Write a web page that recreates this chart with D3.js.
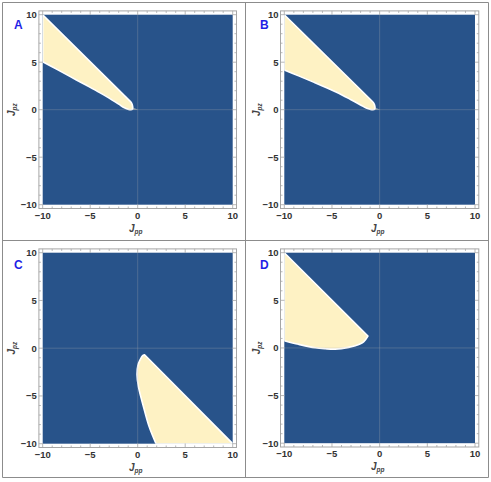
<!DOCTYPE html>
<html>
<head>
<meta charset="utf-8">
<script src="https://cdn.jsdelivr.net/npm/d3@7"></script>
<style>
  body { margin: 0; background: #fff; }
  svg { display: block; }
</style>
</head>
<body>
<div id="chart"></div>
<script>
// tick values shared by all four panels
var majorTicks = [-10, -5, 0, 5, 10];
var panelLetters = ["A", "B", "C", "D"];

// yellow regions (J_pp, J_pz)
// straight part of each outline, then the curved part
var edgeA = [[-10, 5.05], [-10, 10], [-0.81, 0.9]];
var curveA = [[-0.81, 0.9], [-0.63, 0.67], [-0.53, 0.32], [-0.56, 0.04], [-0.75, 0], [-0.95, 0.03],
              [-1.4, 0.2], [-2, 0.58], [-3, 1.22], [-4, 1.8], [-5.5, 2.62], [-7, 3.43], [-8.5, 4.24], [-10, 5.05]];
var tailA = [[-0.55, 0.25], [0.05, 0.0], [-0.56, -0.04]];

var edgeB = [[-10, 4.18], [-10, 10], [-0.81, 0.92]];
var curveB = [[-0.81, 0.92], [-0.62, 0.7], [-0.5, 0.36], [-0.53, 0.04], [-0.75, 0], [-0.95, 0.03],
              [-1.4, 0.17], [-2, 0.5], [-3, 1.05], [-4, 1.58], [-5.5, 2.28], [-7, 2.93], [-8.5, 3.56], [-10, 4.18]];
var tailB = [[-0.5, 0.25], [0.05, 0.0], [-0.52, -0.04]];

var edgeC = [[0.72, -0.68], [10, -10], [1.93, -10]];
var curveC = [[1.93, -10], [1.2, -8.2], [0.6, -6.1], [0.07, -4.0], [-0.07, -2.8], [0.02, -1.8],
              [0.24, -1.24], [0.5, -0.8], [0.72, -0.68]];

var edgeD = [[-10, 0.76], [-10, 10], [-1.23, 1.25]];
var curveD = [[-1.23, 1.25], [-1.68, 0.65], [-2.56, 0.23], [-3.25, 0.06], [-4.66, -0.12],
              [-5.71, -0.08], [-6.76, 0.02], [-8.5, 0.38], [-10, 0.76]];

var regions = [
  {edge: edgeA, curve: curveA, tail: tailA},
  {edge: edgeB, curve: curveB, tail: tailB},
  {edge: edgeC, curve: curveC, tail: null},
  {edge: edgeD, curve: curveD, tail: null}
];

// layout of the 2x2 grid (pixel boxes of the data range)
var layout = [
  {x0: 42.7, x1: 232.7, y0: 14.7, y1: 204.7, lx: 14, ly: 29, cx: 0},
  {x0: 284.3, x1: 475, y0: 14.7, y1: 204.7, lx: 260, ly: 29, cx: 245},
  {x0: 42.7, x1: 232.7, y0: 252.7, y1: 443.7, lx: 14, ly: 269, cx: 0},
  {x0: 284.3, x1: 475, y0: 252.7, y1: 443.2, lx: 260, ly: 269, cx: 245}
];

var W = 491, H = 482;
var blue = "#28538a", yellow = "#fef2c4";

var svg = d3.select("#chart").append("svg")
  .attr("width", W).attr("height", H);

// cell borders
[2.5, 245.5, 488.5].forEach(function(x) {
  svg.append("line").attr("x1", x).attr("x2", x).attr("y1", 2.5).attr("y2", 477.5)
    .attr("stroke", "#8c8c8c").attr("stroke-width", 1);
});
[2.5, 240.5, 477.5].forEach(function(y) {
  svg.append("line").attr("x1", 2.5).attr("x2", 488.5).attr("y1", y).attr("y2", y)
    .attr("stroke", "#8c8c8c").attr("stroke-width", 1);
});

layout.forEach(function(p, i) {
  var x = d3.scaleLinear().domain([-10, 10]).range([p.x0, p.x1]);
  var y = d3.scaleLinear().domain([-10, 10]).range([p.y1, p.y0]);
  var pad = 3.8;
  var g = svg.append("g");

  var clipId = "clip" + i;
  svg.append("clipPath").attr("id", clipId).append("rect")
    .attr("x", x(-10)).attr("y", y(10))
    .attr("width", x(10) - x(-10)).attr("height", y(-10) - y(10));

  // background region
  g.append("rect")
    .attr("x", x(-10)).attr("y", y(10))
    .attr("width", x(10) - x(-10)).attr("height", y(-10) - y(10))
    .attr("fill", blue);

  var reg = regions[i];
  var straight = d3.line().x(function(d) { return x(d[0]); }).y(function(d) { return y(d[1]); });
  var curved = d3.line().x(function(d) { return x(d[0]); }).y(function(d) { return y(d[1]); })
    .curve(d3.curveCatmullRom.alpha(0.5));
  var dPath = straight(reg.edge) + curved(reg.curve).replace(/^M/, "L") + "Z";

  var rg = g.append("g").attr("clip-path", "url(#" + clipId + ")");
  if (reg.tail) {
    rg.append("path").attr("d", straight(reg.tail) + "Z")
      .attr("fill", "#d8d6c0").attr("opacity", 0.55);
  }
  rg.append("path").attr("d", dPath)
    .attr("fill", yellow)
    .attr("stroke", "#ffffff").attr("stroke-width", 1.6)
    .attr("stroke-linejoin", "round");

  // grid lines at zero
  g.append("line").attr("x1", x(0)).attr("x2", x(0)).attr("y1", y(-10)).attr("y2", y(10))
    .attr("stroke", "#b4b4b4").attr("stroke-opacity", 0.35).attr("stroke-width", 0.8);
  g.append("line").attr("x1", x(-10)).attr("x2", x(10)).attr("y1", y(0)).attr("y2", y(0))
    .attr("stroke", "#b4b4b4").attr("stroke-opacity", 0.35).attr("stroke-width", 0.8);

  // frame
  var fx0 = x(-10) - pad, fx1 = x(10) + pad, fy0 = y(10) - pad, fy1 = y(-10) + pad;
  g.append("rect")
    .attr("x", fx0).attr("y", fy0).attr("width", fx1 - fx0).attr("height", fy1 - fy0)
    .attr("fill", "none").attr("stroke", "#a6a6a6").attr("stroke-width", 1);

  var minor = x.ticks(20);
  var tickCol = "#a6a6a6";
  minor.forEach(function(t) {
    var len = majorTicks.indexOf(t) >= 0 ? 4 : 2;
    // bottom / top
    g.append("line").attr("x1", x(t)).attr("x2", x(t)).attr("y1", fy1).attr("y2", fy1 - len)
      .attr("stroke", tickCol).attr("stroke-width", 0.8);
    g.append("line").attr("x1", x(t)).attr("x2", x(t)).attr("y1", fy0).attr("y2", fy0 + len)
      .attr("stroke", tickCol).attr("stroke-width", 0.8);
    // left / right
    g.append("line").attr("y1", y(t)).attr("y2", y(t)).attr("x1", fx0).attr("x2", fx0 + len)
      .attr("stroke", tickCol).attr("stroke-width", 0.8);
    g.append("line").attr("y1", y(t)).attr("y2", y(t)).attr("x1", fx1).attr("x2", fx1 - len)
      .attr("stroke", tickCol).attr("stroke-width", 0.8);
  });

  var fmt = function(t) { return t < 0 ? "\u2212" + Math.abs(t) : String(t); };
  majorTicks.forEach(function(t) {
    g.append("text").attr("x", x(t)).attr("y", fy1 + 10)
      .attr("text-anchor", "middle")
      .style("font-family", "Liberation Sans, Arial, sans-serif")
      .style("font-size", "9.5px").style("font-weight", "bold").attr("fill", "#333")
      .text(fmt(t));
    g.append("text").attr("x", fx0 - 2).attr("y", y(t) + 3.3)
      .attr("text-anchor", "end")
      .style("font-family", "Liberation Sans, Arial, sans-serif")
      .style("font-size", "9.5px").style("font-weight", "bold").attr("fill", "#333")
      .text(fmt(t));
  });

  // axis labels
  var xl = g.append("text").attr("x", (x(-10) + x(10)) / 2 - 2).attr("y", fy1 + 23)
    .attr("text-anchor", "middle")
    .style("font-family", "Liberation Sans, Arial, sans-serif")
    .style("font-weight", "bold").style("font-style", "italic").attr("fill", "#444");
  xl.append("tspan").style("font-size", "10px").text("J");
  xl.append("tspan").style("font-size", "6.5px").attr("dy", 2).text("pp");

  var ymid = (y(-10) + y(10)) / 2;
  var yl = g.append("text")
    .attr("transform", "translate(" + (p.cx + 15) + "," + ymid + ") rotate(-90)")
    .attr("text-anchor", "middle")
    .style("font-family", "Liberation Sans, Arial, sans-serif")
    .style("font-weight", "bold").style("font-style", "italic").attr("fill", "#444");
  yl.append("tspan").style("font-size", "10px").text("J");
  yl.append("tspan").style("font-size", "6.5px").attr("dy", 2).text("pz");

  // panel letter
  g.append("text").attr("x", p.lx).attr("y", p.ly)
    .style("font-family", "Liberation Sans, Arial, sans-serif")
    .style("font-size", "12px").style("font-weight", "bold").attr("fill", "#1f1fe6")
    .text(panelLetters[i]);
});
</script>
</body>
</html>
